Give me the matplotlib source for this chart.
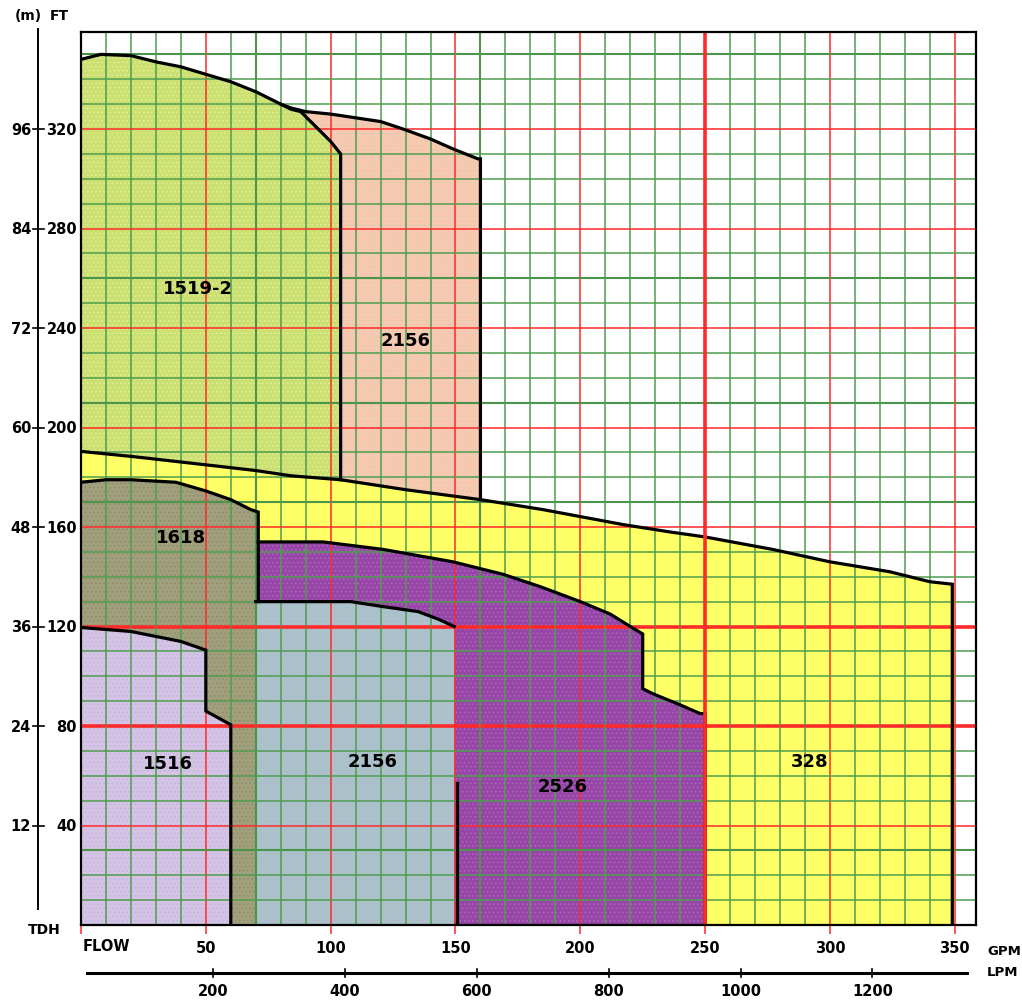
import matplotlib

matplotlib.use("Agg")
import matplotlib.pyplot as plt
import matplotlib.transforms as mtransforms
from matplotlib.lines import Line2D
from matplotlib.patches import Polygon

# pump family envelopes (flow in GPM, head in ft)
TOP_1519_2_GPM = [0, 8, 20, 30, 40, 50, 60, 70, 80, 84, 88, 95, 100, 104]
TOP_1519_2_FT = [348, 350, 349.5, 347, 345, 342, 339, 335, 330, 328, 327, 320, 315, 310]

TOP_2156_UP_GPM = [80, 84, 90, 100, 110, 120, 129, 140, 149, 159, 160]
TOP_2156_UP_FT = [330, 328.5, 327, 326, 324.5, 323, 320, 316, 312, 308, 308]

TOP_328_GPM = [0, 20, 50, 70, 84, 104, 130, 160, 185, 201, 217, 236, 250, 277, 300, 324, 340, 349]
TOP_328_FT = [190.4, 188.4, 185, 182.7, 180.6, 179, 175, 171, 167, 164, 161, 158, 156, 151, 146, 142, 138, 137]

TOP_1618_GPM = [0, 10, 20, 38, 50, 60, 68, 71]
TOP_1618_FT = [178, 179, 179, 178, 174.5, 171, 167, 166]

TOP_2526_GPM = [71, 97, 121, 149, 169, 184, 200, 212, 220, 225, 225, 229, 240, 248, 250]
TOP_2526_FT = [154, 154, 151, 146, 141, 136, 130, 125, 120, 117, 95, 93, 88.5, 85, 85]

TOP_2156_LO_GPM = [70, 108, 121, 135, 143, 149.5]
TOP_2156_LO_FT = [130, 130, 128, 126, 123, 120]

TOP_1516_GPM = [0, 20, 40, 50, 50, 60, 60]
TOP_1516_FT = [119.6, 118, 114, 110.5, 86, 80.5, 0]

GPM_TICKS = [50, 100, 150, 200, 250, 300, 350]
FT_TICKS = [320, 280, 240, 200, 160, 120, 80, 40]
M_LABELS = [96, 84, 72, 60, 48, 36, 24, 12]
LPM_TICKS = [200, 400, 600, 800, 1000, 1200]
LPM_PER_GPM = 3.785

LABELS = ["1519-2", "2156", "1618", "1516", "2156", "2526", "328"]
LABEL_GPM = [47, 130, 40, 35, 117, 193, 292]
LABEL_FT = [256, 235, 156, 65, 66, 56, 66]

HEAVY_RED_FT = [80, 120]
HEAVY_RED_GPM = [250]
DARK_GREEN_FT = [30, 170, 210, 260, 350]
DARK_GREEN_GPM = [70, 160]

GREEN = "#4f9d4f"
RED = "#ff2a2a"

layer = [1.0]


def add_region(ax, xs, ys, face, dots):
    pts = list(zip(xs, ys))
    z = layer[0]
    layer[0] += 0.02
    ax.add_patch(Polygon(pts, closed=True, facecolor=face, edgecolor="none", zorder=z))
    if dots:
        ax.add_patch(Polygon(pts, closed=True, facecolor="none", edgecolor=dots,
                             linewidth=0, hatch="....", zorder=z + 0.01))


def outline(ax, xs, ys, lw=2.3):
    ax.plot(xs, ys, color="black", linewidth=lw, solid_joinstyle="miter", zorder=3)


fig = plt.figure(figsize=(10.22, 10.03), dpi=100)
ax = fig.add_axes([81 / 1022, 77 / 1003, 895 / 1022, 893 / 1003])
ax.set_xlim(0, 358.5)
ax.set_ylim(0, 359)
plt.rcParams["hatch.linewidth"] = 0.6

# 1519-2
add_region(ax, TOP_1519_2_GPM + [104, 0], TOP_1519_2_FT + [0, 0], "#cbe070", "#e2f09c")
# 2156 (upper)
tail = [i for i, g in enumerate(TOP_1519_2_GPM) if g >= 84][::-1]
add_region(ax,
           TOP_2156_UP_GPM + [160, 104] + [TOP_1519_2_GPM[i] for i in tail],
           TOP_2156_UP_FT + [0, 0] + [TOP_1519_2_FT[i] for i in tail],
           "#f9c8b2", "#d8d0a8")
# 328
add_region(ax, TOP_328_GPM + [349, 0], TOP_328_FT + [0, 0], "#ffff66", None)
# 1618
add_region(ax, TOP_1618_GPM + [71, 0], TOP_1618_FT + [0, 0], "#a29f7d", "#8f8c6e")
# 2526
add_region(ax, TOP_2526_GPM + [250, 71], TOP_2526_FT + [0, 0], "#9646a6", "#b066c0")
# 2156 (lower)
add_region(ax, TOP_2156_LO_GPM + [149.5, 70], TOP_2156_LO_FT + [0, 0], "#a9c3c8", "#b7b0d8")
# 1516
add_region(ax, TOP_1516_GPM + [0], TOP_1516_FT + [0], "#d6c3e3", "#b9b8e8")

# grid above the fills
ax.set_xticks(range(0, 351, 50))
ax.set_xticks(range(0, 359, 10), minor=True)
ax.set_yticks(range(0, 360, 40))
ax.set_yticks(range(0, 360, 10), minor=True)
ax.set_axisbelow(False)
ax.grid(which="minor", color=GREEN, linewidth=1.1, zorder=2)
ax.grid(which="major", color=RED, linewidth=1.1, zorder=2)
for ft in HEAVY_RED_FT:
    ax.axhline(ft, color=RED, linewidth=2.6, zorder=2.2)
for g in HEAVY_RED_GPM:
    ax.axvline(g, color=RED, linewidth=2.6, zorder=3.2)
for ft in DARK_GREEN_FT:
    ax.axhline(ft, color="#3a7d3a", linewidth=1.5, zorder=2.1)
for g in DARK_GREEN_GPM:
    ax.axvline(g, color="#3a7d3a", linewidth=1.5, zorder=2.1)

# envelope outlines
outline(ax, TOP_1519_2_GPM + [104], TOP_1519_2_FT + [179])
outline(ax, TOP_2156_UP_GPM + [160], TOP_2156_UP_FT + [171])
outline(ax, TOP_328_GPM + [349], TOP_328_FT + [0])
outline(ax, TOP_1618_GPM + [71], TOP_1618_FT + [130])
outline(ax, TOP_2526_GPM + [250], TOP_2526_FT + [0])
outline(ax, TOP_2156_LO_GPM, TOP_2156_LO_FT)
outline(ax, [150.8, 150.8], [57, 0])
outline(ax, TOP_1516_GPM, TOP_1516_FT)

for text, g, ft in zip(LABELS, LABEL_GPM, LABEL_FT):
    ax.text(g, ft, text, ha="center", va="center", fontsize=13, fontweight="bold", zorder=4)

for side in ax.spines.values():
    side.set_color("black")
    side.set_linewidth(1.6)
    side.set_zorder(5)

# bottom GPM labels with short red ticks
ax.set_xticklabels([""] + [str(g) for g in GPM_TICKS], fontsize=10.5, fontweight="bold")
ax.tick_params(axis="x", which="major", direction="out", length=6.5, width=1.1,
               color=RED, pad=4)
ax.tick_params(axis="x", which="minor", length=0)
ax.tick_params(axis="y", which="both", length=0, labelleft=False)

fx = mtransforms.blended_transform_factory(ax.transData, fig.transFigure)
fy = mtransforms.blended_transform_factory(fig.transFigure, ax.transData)

# left head scales: metres and feet
fig.add_artist(Line2D([38 / 1022, 38 / 1022], [1 - 30 / 1003, 1 - 910 / 1003],
                      color="black", linewidth=1.4))
for ft, m in zip(FT_TICKS, M_LABELS):
    ax.text(77 / 1022, ft, str(ft), transform=fy, ha="right", va="center",
            fontsize=10.5, fontweight="bold")
    ax.text(31 / 1022, ft, str(m), transform=fy, ha="right", va="center",
            fontsize=10.5, fontweight="bold")
    fig.add_artist(Line2D([33 / 1022, 44 / 1022], [ft, ft], transform=fy,
                          color="black", linewidth=1.2))

fig.text(15 / 1022, 1 - 16 / 1003, "(m)", ha="left", va="center", fontsize=10, fontweight="bold")
fig.text(50 / 1022, 1 - 16 / 1003, "FT", ha="left", va="center", fontsize=10, fontweight="bold")
fig.text(44 / 1022, 1 - 930 / 1003, "TDH", ha="center", va="center", fontsize=10, fontweight="bold")
fig.text(83 / 1022, 1 - 947 / 1003, "FLOW", ha="left", va="center", fontsize=10.5, fontweight="bold")
fig.text(987 / 1022, 1 - 952 / 1003, "GPM", ha="left", va="center", fontsize=9.5, fontweight="bold")
fig.text(987 / 1022, 1 - 973 / 1003, "LPM", ha="left", va="center", fontsize=9.5, fontweight="bold")

# LPM scale below
lpm_y = 1 - 974 / 1003
fig.add_artist(Line2D([2.4, 355], [lpm_y, lpm_y], transform=fx, color="black", linewidth=2.2))
for lpm in LPM_TICKS:
    g = lpm / LPM_PER_GPM
    fig.add_artist(Line2D([g, g], [lpm_y - 0.004, lpm_y + 0.004], transform=fx,
                          color="black", linewidth=1.2))
    ax.text(g, 1 - 992 / 1003, str(lpm), transform=fx, ha="center", va="center",
            fontsize=10.5, fontweight="bold")

fig.savefig("out.png", dpi=100)
